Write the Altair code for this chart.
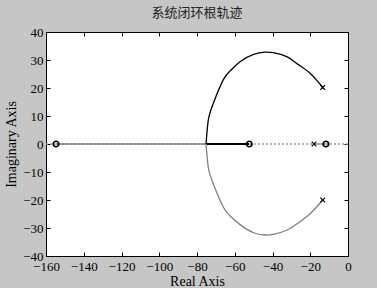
import altair as alt
import pandas as pd

# ---- data ----
upper_x = [-13.4, -20.1, -27.2, -32.5, -39.6, -44.0, -50.0, -57.2, -62.0, -66.1, -71.4, -74.0, -75.2]
upper_y = [20.2, 25.3, 28.8, 31.2, 32.6, 32.8, 32.0, 29.4, 26.4, 22.9, 14.5, 8.6, 0.0]
lower_x = [-13.4, -20.1, -27.2, -32.5, -39.6, -44.0, -50.0, -57.2, -62.0, -66.1, -71.4, -74.0, -75.2]
lower_y = [-20.0, -24.9, -28.6, -30.8, -32.3, -32.5, -31.7, -28.8, -26.0, -22.5, -14.2, -8.4, 0.0]

zeros_x = [-154.7, -52.3, -11.7]
poles_x = [-13.4, -13.4, -18.0]
poles_y = [20.2, -20.0, 0.0]

gray_seg_x = [-154.7, -75.2]
black_seg_x = [-75.2, -52.3]
small_seg_x = [-18.0, -11.7]
axis_line_x = [-160, 0]

x_ticks = list(range(-160, 1, 20))
y_ticks = list(range(-40, 41, 10))

FONT = "Liberation Serif"
GRAY = "#7f7f7f"

xs = alt.Scale(domain=[-160, 0], nice=False, zero=False)
ys = alt.Scale(domain=[-40, 40], nice=False, zero=False)

def xax(orient, labels=True, title=None):
    kw = dict(orient=orient, values=x_ticks, grid=False, domain=False, tickSize=4,
              offset=-4, tickColor="black", labels=labels)
    if labels:
        kw.update(labelFont=FONT, labelFontSize=13, labelColor="black", labelPadding=4,
                  labelOverlap=False, labelFlush=False)
    if title:
        kw.update(title=title, titleFont=FONT, titleFontSize=14, titleFontWeight="normal",
                  titleColor="black", titlePadding=1)
    else:
        kw.update(title=None)
    return alt.Axis(**kw)

def yax(orient, labels=True, title=None):
    kw = dict(orient=orient, values=y_ticks, grid=False, domain=False, tickSize=4,
              offset=-4, tickColor="black", labels=labels)
    if labels:
        kw.update(labelFont=FONT, labelFontSize=13, labelColor="black", labelPadding=3,
                  labelOverlap=False, labelFlush=False)
    if title:
        kw.update(title=title, titleFont=FONT, titleFontSize=14, titleFontWeight="normal",
                  titleColor="black", titlePadding=4)
    else:
        kw.update(title=None)
    return alt.Axis(**kw)

X = lambda: alt.X("x:Q", scale=xs, axis=None)
Y = lambda: alt.Y("y:Q", scale=ys, axis=None)

# dotted real axis
dotted_df = pd.DataFrame({"x": axis_line_x, "y": [0, 0]})
dotted = alt.Chart(dotted_df).mark_line(color="#9a9a9a", strokeWidth=1.5, strokeDash=[2, 2]).encode(
    x=alt.X("x:Q", scale=xs, axis=xax("bottom", True, "Real Axis")),
    y=alt.Y("y:Q", scale=ys, axis=yax("left", True, "Imaginary Axis")),
)
frame = alt.Chart(dotted_df).mark_line(opacity=0).encode(
    x=alt.X("x:Q", scale=xs, axis=xax("top", False)),
    y=alt.Y("y:Q", scale=ys, axis=yax("right", False)),
)

def seg(xv, color, w):
    df = pd.DataFrame({"x": xv, "y": [0] * len(xv)})
    return alt.Chart(df).mark_line(color=color, strokeWidth=w).encode(x=X(), y=Y())

up_df = pd.DataFrame({"x": upper_x, "y": upper_y, "i": range(len(upper_x))})
lo_df = pd.DataFrame({"x": lower_x, "y": lower_y, "i": range(len(lower_x))})
upper = alt.Chart(up_df).mark_line(color="black", strokeWidth=1.3, interpolate="natural").encode(
    x=X(), y=Y(), order="i:Q")
lower = alt.Chart(lo_df).mark_line(color=GRAY, strokeWidth=1.3, interpolate="natural").encode(
    x=X(), y=Y(), order="i:Q")

z_df = pd.DataFrame({"x": zeros_x, "y": [0] * len(zeros_x)})
zeros = alt.Chart(z_df).mark_point(shape="circle", size=30, strokeWidth=1.7, color="black",
                                   filled=False, opacity=1).encode(x=X(), y=Y())
p_df = pd.DataFrame({"x": poles_x, "y": poles_y})
poles = alt.Chart(p_df).mark_point(shape="M-1,-1L1,1M-1,1L1,-1", size=22, strokeWidth=1.2,
                                   color="black", filled=False, opacity=1).encode(x=X(), y=Y())

chart = alt.layer(
    dotted, frame,
    seg(gray_seg_x, GRAY, 1.5), seg(black_seg_x, "black", 2.2), seg(small_seg_x, "#9a9a9a", 1.5),
    upper, lower, zeros, poles,
).properties(
    width=302, height=224,
    title=alt.TitleParams("系统闭环根轨迹", font="Noto Sans CJK SC", fontSize=13,
                          fontWeight="normal", color="#222222", offset=6),
    autosize=alt.AutoSizeParams(type="none"),
    padding={"left": 46, "top": 32, "right": 29, "bottom": 32},
    background="#c6c6c6",
).configure_view(fill="white", stroke="black", strokeWidth=1)

chart.save("out.html", embed_options={"renderer": "svg", "actions": False})
